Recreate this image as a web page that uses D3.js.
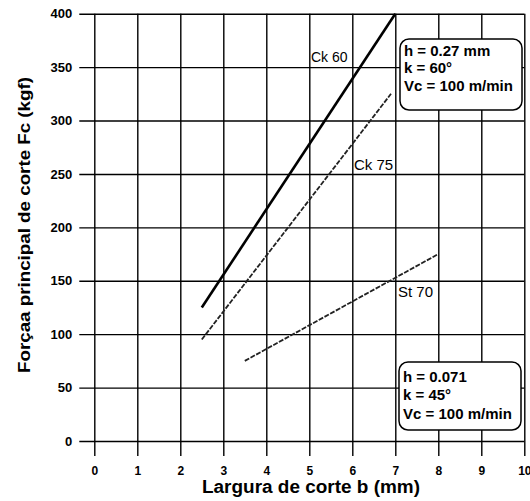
<!DOCTYPE html>
<html>
<head>
<meta charset="utf-8">
<script src="https://cdn.jsdelivr.net/npm/d3@7"></script>
<style>
  body { margin: 0; background: #fff; }
  text { font-family: "Liberation Sans", Arial, sans-serif; }
</style>
</head>
<body>
<div id="chart"></div>
<script>
const width = 530
const height = 501
const margin = { top: 13.7, bottom: 60, left: 94.3, right: 5.7 }

// dados
const xTicks = [0, 1, 2, 3, 4, 5, 6, 7, 8, 9, 10]
const yTicks = [0, 50, 100, 150, 200, 250, 300, 350, 400]
const seriesNames = ["Ck 60", "Ck 75", "St 70"]
const seriesB = [[2.5, 7], [2.5, 6.9], [3.5, 8]]
const seriesFc = [[125, 400], [95, 325], [75, 175]]
const box1Lines = ["h = 0.27 mm", "k = 60°", "Vc = 100 m/min"]
const box2Lines = ["h = 0.071", "k = 45°", "Vc = 100 m/min"]

const svg = d3.select("#chart").append("svg").attr("width", width).attr("height", height)

const x = d3.scaleLinear().domain([0, 10]).range([margin.left, width - margin.right])
const y = d3.scaleLinear().domain([0, 400]).range([441, margin.top])

const tickOut = 15

// grade horizontal + rótulos y
const yAxis = d3.axisLeft(y).tickValues(yTicks).tickFormat(d3.format("d"))
    .tickSizeInner(-(x(10) - x(0) + tickOut)).tickSizeOuter(0).tickPadding(7)
const yAxisGroup = svg.append("g").attr("transform", `translate(${x(0) - tickOut}, 0)`).call(yAxis)
yAxisGroup.select(".domain").remove()
yAxisGroup.selectAll("line").attr("stroke", "#000").attr("stroke-width", 1.4)
yAxisGroup.selectAll("text").attr("font-size", 13).attr("font-weight", "bold").attr("fill", "#000")
    .attr("font-family", "Liberation Sans, Arial, sans-serif")

// grade vertical + rótulos x
const xAxis = d3.axisBottom(x).tickValues(xTicks).tickFormat(d3.format("d"))
    .tickSizeInner(-(y(0) - y(400) + tickOut)).tickSizeOuter(0).tickPadding(10)
const xAxisGroup = svg.append("g").attr("transform", `translate(0, ${y(0) + tickOut})`).call(xAxis)
xAxisGroup.select(".domain").remove()
xAxisGroup.selectAll("line").attr("stroke", "#000").attr("stroke-width", 1.4)
xAxisGroup.selectAll("text").attr("font-size", 12).attr("font-weight", "bold").attr("fill", "#000")
    .attr("font-family", "Liberation Sans, Arial, sans-serif")

// títulos
svg.append("text")
    .attr("x", 311).attr("y", 493)
    .attr("text-anchor", "middle")
    .attr("font-size", 18).attr("font-weight", "bold")
    .attr("textLength", 218).attr("lengthAdjust", "spacingAndGlyphs")
    .text("Largura de corte b (mm)")

svg.append("text")
    .attr("transform", "translate(30, 225) rotate(-90)")
    .attr("text-anchor", "middle")
    .attr("font-size", 17).attr("font-weight", "bold")
    .attr("textLength", 296).attr("lengthAdjust", "spacingAndGlyphs")
    .text("Forçaa principal de corte Fc (kgf)")

// linhas
const line = d3.line().x(d => x(d[0])).y(d => y(d[1]))
const styles = [
    { stroke: "#000", width: 2.6, dash: null },
    { stroke: "#222", width: 1.8, dash: "5,1.5" },
    { stroke: "#222", width: 1.8, dash: "5,1.5" }
]
seriesNames.forEach((name, i) => {
    const pts = seriesB[i].map((b, j) => [b, seriesFc[i][j]])
    svg.append("path")
        .datum(pts)
        .attr("d", line)
        .attr("fill", "none")
        .attr("stroke", styles[i].stroke)
        .attr("stroke-width", styles[i].width)
        .attr("stroke-dasharray", styles[i].dash)
})

// rótulos das linhas
const labelPos = [
    { x: 311, y: 62, size: 14 },
    { x: 354, y: 170, size: 15 },
    { x: 398, y: 297, size: 15 }
]
seriesNames.forEach((name, i) => {
    svg.append("text")
        .attr("x", labelPos[i].x).attr("y", labelPos[i].y)
        .attr("font-size", labelPos[i].size)
        .attr("fill", "#000")
        .text(name)
})

// caixas
function infoBox(x0, y0, w, h, lines, baselines) {
    svg.append("rect")
        .attr("x", x0).attr("y", y0).attr("width", w).attr("height", h)
        .attr("rx", 9).attr("ry", 9)
        .attr("fill", "#fff").attr("stroke", "#000").attr("stroke-width", 1.5)
    lines.forEach((t, i) => {
        svg.append("text")
            .attr("x", x0 + 4).attr("y", baselines[i])
            .attr("font-size", 15).attr("font-weight", "bold")
            .text(t)
    })
}
infoBox(400, 39, 122, 71, box1Lines, [56, 73, 91])
infoBox(399, 362, 122, 68, box2Lines, [382, 400, 419])
</script>
</body>
</html>
